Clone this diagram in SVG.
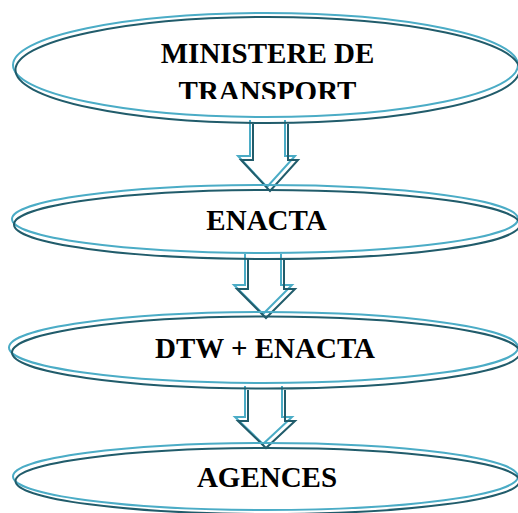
<svg xmlns="http://www.w3.org/2000/svg" width="518" height="513" viewBox="0 0 518 513">
  <style>
    .hi { fill: none; stroke: #4bacc6; stroke-width: 2; }
    .lo { fill: none; stroke: #215c6b; stroke-width: 2; }
    .lbl { font-family: "Liberation Serif", "Times New Roman", serif; font-weight: bold; font-size: 29px; fill: #000; text-anchor: middle; }
  </style>
  <defs>
    <clipPath id="clip-top">
      <rect x="0" y="0" width="518" height="99"/>
    </clipPath>
  </defs>
  <rect width="518" height="513" fill="#fff"/>

  <g id="connectors">
    <g id="arrow-1">
      <path class="hi" d="M250,120 V156 H238 L267,187 L295,156 H285 V120"/>
      <path class="lo" d="M253,124 V160 H241 L270,191 L298,160 H288 V124"/>
    </g>
    <g id="arrow-2">
      <path class="hi" d="M245,254 V285 H234 L263,314 L292,285 H281 V254"/>
      <path class="lo" d="M248,258 V289 H237 L266,318 L295,289 H284 V258"/>
    </g>
    <g id="arrow-3">
      <path class="hi" d="M245,386 V417 H235 L263,444 L292,417 H282 V386"/>
      <path class="lo" d="M248,390 V421 H238 L266,448 L295,421 H285 V390"/>
    </g>
  </g>

  <g id="node-ministere">
    <ellipse class="hi" cx="265.5" cy="65" rx="252.5" ry="52"/>
    <ellipse class="lo" cx="267.5" cy="70" rx="252" ry="53"/>
    <g clip-path="url(#clip-top)">
      <text class="lbl" x="267.5" y="63">MINISTERE DE</text>
      <text class="lbl" x="267.5" y="101">TRANSPORT</text>
    </g>
  </g>

  <g id="node-enacta">
    <ellipse class="hi" cx="265" cy="219" rx="253" ry="34"/>
    <ellipse class="lo" cx="267" cy="224.5" rx="253" ry="34.5"/>
    <text class="lbl" x="266.5" y="230">ENACTA</text>
  </g>

  <g id="node-dtw">
    <ellipse class="hi" cx="263.5" cy="347.5" rx="254.5" ry="35.5"/>
    <ellipse class="lo" cx="266" cy="352.5" rx="254" ry="36"/>
    <text class="lbl" x="265" y="358">DTW + ENACTA</text>
  </g>

  <g id="node-agences">
    <ellipse class="hi" cx="265.5" cy="476.5" rx="252.5" ry="33.5"/>
    <ellipse class="lo" cx="267.5" cy="481" rx="252" ry="33"/>
    <text class="lbl" x="267" y="487">AGENCES</text>
  </g>
</svg>
